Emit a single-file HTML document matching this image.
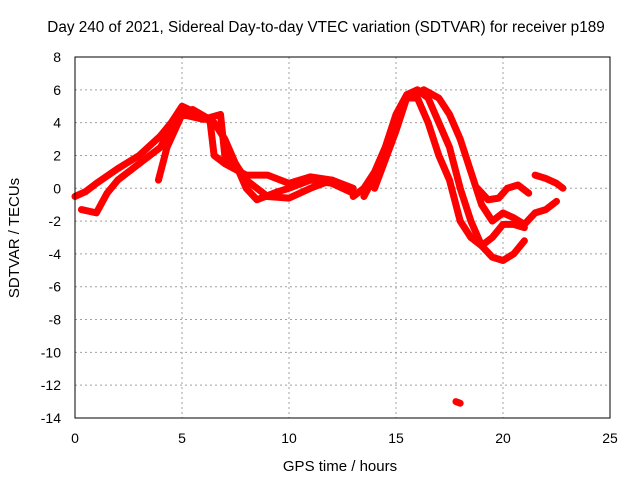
<!DOCTYPE html>
<html><head><meta charset="utf-8"><style>
body{margin:0;background:#fff}
svg{display:block}
text{font-family:"Liberation Sans",sans-serif;font-size:14px;fill:#000}
</style></head><body>
<svg id="c" width="640" height="480">
<g id="grid"></g>
<g id="series"></g>
<rect x="75" y="57" width="535" height="361" fill="none" stroke="#000" stroke-width="1"/>
<g id="ticks"></g>
<text x="326" y="32" text-anchor="middle" style="font-size:15.3px">Day 240 of 2021, Sidereal Day-to-day VTEC variation (SDTVAR) for receiver p189</text>
<text x="340" y="471" text-anchor="middle" style="font-size:15px">GPS time / hours</text>
<text x="19" y="238" text-anchor="middle" style="font-size:15px" transform="rotate(-90 19 238)">SDTVAR / TECUs</text>
</svg>
<script>
const xTicks=[0,5,10,15,20,25];
const yTicks=[8,6,4,2,0,-2,-4,-6,-8,-10,-12,-14];
const trackA=[[0,-0.5],[0.5,-0.2],[1,0.3],[2,1.2],[3,2],[4,3.2],[4.5,4],[5,5],[5.5,4.7],[6,4.3],[6.5,4],[7,3],[7.5,1.5],[8,0.5],[8.5,0],[9,-0.5],[10,-0.6],[11,0],[12,0.5],[13,0]];
const trackB=[[0.3,-1.3],[1,-1.5],[1.5,-0.3],[2,0.5],[3,1.5],[4,2.5],[4.8,4.5],[5.5,4.8],[6.3,4.2],[6.5,2],[7,1.5],[8,0.8],[9,0.8],[10,0.3],[11,0.7],[12,0.5],[12.5,0.2]];
const trackC=[[3.9,0.5],[4.3,2.5],[5,4.5],[6,4.2],[6.8,4.5],[7,2],[7.5,1.5],[8,0],[8.5,-0.7],[9.5,-0.2],[10,0],[11,0.5],[12,0.3],[13,-0.3]];
const trackD=[[13,-0.5],[13.5,0],[14,1],[14.5,2.5],[15,4.5],[15.5,5.7],[16,6],[16.5,5.5],[17,4],[17.5,2.5],[18,0],[18.5,-2],[19,-3.5],[19.5,-4.2],[20,-4.4],[20.5,-4],[21,-3.2]];
const trackE=[[13.5,-0.5],[14.5,2],[15,4],[15.5,5.5],[16,5.5],[16.5,4],[17,2],[17.5,0.5],[18,-2],[18.5,-3],[19,-3.5],[19.5,-3],[20,-2.2],[20.5,-2.2],[21,-2.4]];
const trackF=[[14,0],[15,3.5],[15.5,5.5],[16.3,6],[17,5.5],[17.5,4.5],[18,3],[18.5,1],[19,-1],[19.5,-2],[20,-1.5],[20.5,-1.8],[21,-2.2],[21.5,-1.5],[22,-1.3],[22.5,-0.8]];
const trackG=[[18.8,0],[19.3,-0.7],[19.8,-0.6],[20.2,0],[20.7,0.2],[21.2,-0.3]];
const trackH=[[21.5,0.8],[22,0.6],[22.5,0.3],[22.8,0]];
const trackI=[[17.8,-13],[18,-13.1]];
const tracks=[trackA,trackB,trackC,trackD,trackE,trackF,trackG,trackH,trackI];
const X=v=>75+v*535/25, Y=v=>57+(8-v)*361/22;
const NS='http://www.w3.org/2000/svg';
const mk=(p,t,a)=>{const e=document.createElementNS(NS,t);for(const k in a)e.setAttribute(k,a[k]);p.appendChild(e);return e;};
const g=document.getElementById('grid'),tk=document.getElementById('ticks'),s=document.getElementById('series');
xTicks.forEach(v=>{
 if(v>0&&v<25){const l=mk(g,'line',{x1:X(v),x2:X(v),y1:57,y2:418,stroke:'#a0a0a0','stroke-dasharray':'2,3'});}
 const t=mk(tk,'text',{x:X(v),y:443,'text-anchor':'middle'});t.textContent=v;
 
});
yTicks.forEach(v=>{
 if(v<8&&v>-14){const l=mk(g,'line',{x1:75,x2:610,y1:Y(v),y2:Y(v),stroke:'#a0a0a0','stroke-dasharray':'2,3'});}
 const t=mk(tk,'text',{x:61,y:Y(v)+5,'text-anchor':'end'});t.textContent=v;
 
});
tracks.forEach(tr=>{
 const p=mk(s,'polyline',{points:tr.map(d=>X(d[0])+','+Y(d[1])).join(' '),fill:'none',stroke:'#ff0000','stroke-width':7,'stroke-linejoin':'round','stroke-linecap':'round'});
 
 
});
</script>
</body></html>
